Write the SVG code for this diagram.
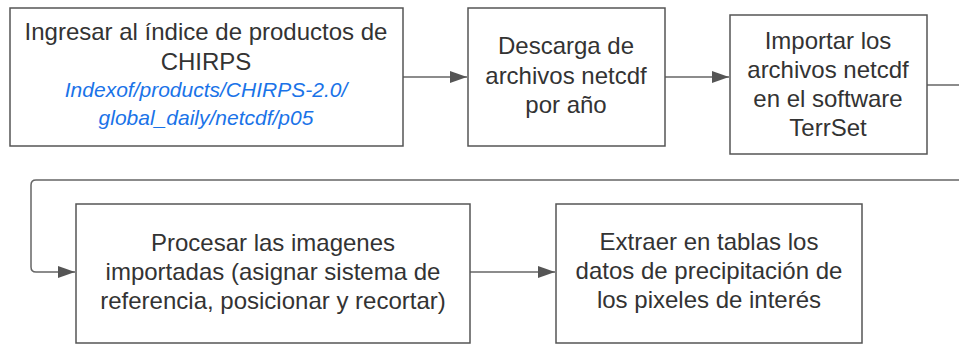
<svg xmlns="http://www.w3.org/2000/svg" width="959" height="344" viewBox="0 0 959 344">
<defs>
<marker id="ah" markerWidth="18" markerHeight="12" refX="17" refY="6" orient="auto" markerUnits="userSpaceOnUse">
<path d="M0,0 L17,6 L0,12 Z" fill="#555"/>
</marker>
<style>
.box{fill:#fff;stroke:#555;stroke-width:1.5}
.t{font-family:"Liberation Sans",Arial,sans-serif;font-size:24px;fill:#333;text-anchor:middle}
.l{font-family:"Liberation Sans",Arial,sans-serif;font-size:21px;fill:#1a73e8;font-style:italic;text-anchor:middle}
.c{fill:none;stroke:#666;stroke-width:1.5}
</style>
</defs>
<rect width="959" height="344" fill="#fff"/>
<g id="connectors">
<path class="c" d="M403,77 L467,77" marker-end="url(#ah)"/>
<path class="c" d="M665,77 L729,77" marker-end="url(#ah)"/>
<path class="c" d="M927,85 L959,85"/>
<path class="c" d="M959,180 L36,180 Q31,180 31,185 L31,267 Q31,272 36,272 L75,272" marker-end="url(#ah)"/>
<path class="c" d="M470,272 L555,272" marker-end="url(#ah)"/>
</g>
<g id="n1">
<rect class="box" x="10" y="8" width="393" height="138"/>
<text class="t" x="206" y="40">Ingresar al índice de productos de</text>
<text class="t" x="206" y="70">CHIRPS</text>
<text class="l" x="206" y="97">Indexof/products/CHIRPS-2.0/</text>
<text class="l" x="206" y="125">global_daily/netcdf/p05</text>
</g>
<g id="n2">
<rect class="box" x="468" y="8" width="197" height="138"/>
<text class="t" x="566" y="54">Descarga de</text>
<text class="t" x="566" y="84">archivos netcdf</text>
<text class="t" x="566" y="113">por año</text>
</g>
<g id="n3">
<rect class="box" x="730" y="15" width="197" height="139"/>
<text class="t" x="828" y="49">Importar los</text>
<text class="t" x="828" y="78">archivos netcdf</text>
<text class="t" x="828" y="107">en el software</text>
<text class="t" x="828" y="136">TerrSet</text>
</g>
<g id="n4">
<rect class="box" x="76" y="204" width="394" height="139"/>
<text class="t" x="273" y="251">Procesar las imagenes</text>
<text class="t" x="273" y="280">importadas (asignar sistema de</text>
<text class="t" x="273" y="309">referencia, posicionar y recortar)</text>
</g>
<g id="n5">
<rect class="box" x="556" y="204" width="306" height="139"/>
<text class="t" x="709" y="250">Extraer en tablas los</text>
<text class="t" x="709" y="279">datos de precipitación de</text>
<text class="t" x="709" y="308">los pixeles de interés</text>
</g>
</svg>
